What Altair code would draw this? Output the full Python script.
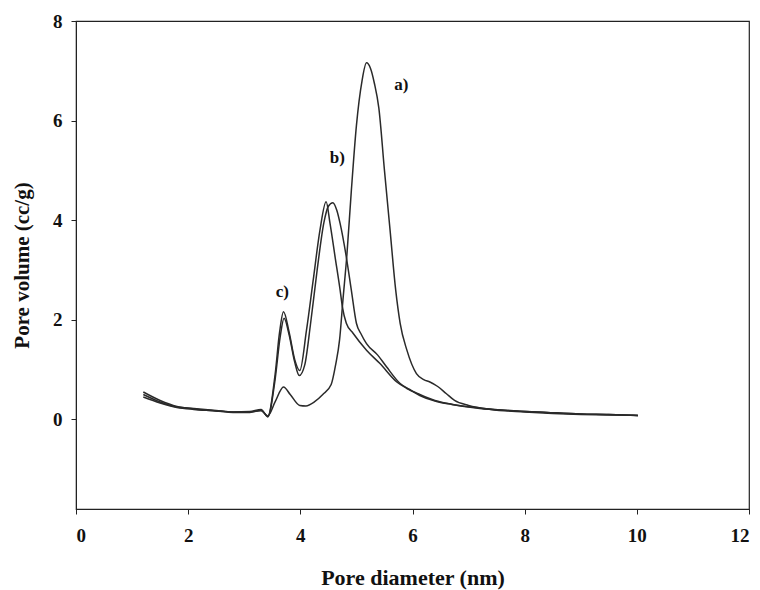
import altair as alt
import pandas as pd

# Curve a)
a_x = [1.2, 1.5, 1.8, 2.1, 2.5, 2.8, 3.1, 3.3, 3.42, 3.55, 3.7, 3.82, 3.99, 4.1, 4.25, 4.4, 4.55, 4.63, 4.7, 4.76, 4.83, 4.91, 5.0, 5.1, 5.18, 5.25, 5.32, 5.4, 5.5, 5.6, 5.7, 5.78, 5.9, 6.07, 6.2, 6.31, 6.45, 6.6, 6.75, 7.0, 7.4, 8.0, 8.5, 9.0, 9.5, 10.02]
a_y = [0.55, 0.38, 0.26, 0.21, 0.17, 0.15, 0.15, 0.18, 0.07, 0.35, 0.65, 0.5, 0.28, 0.27, 0.35, 0.5, 0.7, 1.1, 1.6, 2.4, 3.3, 4.6, 5.9, 6.8, 7.16, 7.05, 6.75, 6.25, 5.0, 3.8, 2.6, 1.93, 1.39, 0.92, 0.8, 0.75, 0.66, 0.52, 0.38, 0.28, 0.2, 0.15, 0.12, 0.1, 0.09, 0.08]

# Curve b)
b_x = [1.2, 1.5, 1.8, 2.1, 2.5, 2.8, 3.1, 3.3, 3.42, 3.55, 3.64, 3.71, 3.8, 3.9, 3.98, 4.08, 4.18, 4.3, 4.42, 4.5, 4.58, 4.65, 4.71, 4.82, 4.91, 5.0, 5.09, 5.18, 5.38, 5.54, 5.78, 5.95, 6.13, 6.4, 6.7, 7.2, 7.7, 8.4, 9.0, 9.5, 10.02]
b_y = [0.5, 0.35, 0.25, 0.22, 0.18, 0.15, 0.16, 0.2, 0.05, 0.8, 1.65, 2.03, 1.7, 1.15, 0.88, 1.1, 1.9, 3.0, 3.95, 4.28, 4.35, 4.2, 3.93, 3.26, 2.59, 1.93, 1.7, 1.52, 1.29, 1.05, 0.72, 0.6, 0.48, 0.37, 0.3, 0.22, 0.18, 0.14, 0.11, 0.1, 0.08]

# Curve c)
c_x = [1.2, 1.5, 1.8, 2.1, 2.5, 2.8, 3.1, 3.3, 3.42, 3.55, 3.63, 3.7, 3.8, 3.9, 3.99, 4.11, 4.23, 4.35, 4.46, 4.53, 4.62, 4.71, 4.75, 4.82, 4.94, 5.18, 5.42, 5.72, 5.9, 6.13, 6.4, 6.72, 7.2, 7.7, 8.4, 9.0, 9.5, 10.02]
c_y = [0.45, 0.33, 0.24, 0.2, 0.17, 0.14, 0.14, 0.18, 0.06, 0.9, 1.75, 2.16, 1.75, 1.2, 0.98, 1.79, 2.8, 3.8, 4.37, 3.93, 3.26, 2.59, 2.26, 1.93, 1.73, 1.39, 1.12, 0.75, 0.62, 0.5, 0.38, 0.3, 0.23, 0.18, 0.14, 0.11, 0.1, 0.08]

label_text = ["a)", "b)", "c)"]
label_x = [5.8, 4.66, 3.68]
label_y = [6.71, 5.25, 2.55]

x_ticks = [0, 2, 4, 6, 8, 10, 12]
y_ticks = [0, 2, 4, 6, 8]

rows = []
for name, xs, ys in (("a", a_x, a_y), ("b", b_x, b_y), ("c", c_x, c_y)):
    for i, (xv, yv) in enumerate(zip(xs, ys)):
        rows.append({"curve": name, "order": i, "d": xv, "v": yv})
df = pd.DataFrame(rows)
labels = pd.DataFrame({"t": label_text, "d": label_x, "v": label_y})

FONT = "Liberation Serif"
xs = alt.Scale(domain=[0, 12], nice=False, zero=False)
ys = alt.Scale(domain=[-1.8, 8], nice=False, zero=False)

lines = alt.Chart(df).mark_line(color="#2a2a2a", strokeWidth=1.5, interpolate="monotone").encode(
    x=alt.X("d:Q", scale=xs, axis=alt.Axis(
        values=x_ticks, format="d", title="Pore diameter (nm)", grid=False, domainColor="#222",
        tickColor="#222", tickSize=5, labelFont=FONT, labelFontSize=19, labelFontWeight="bold",
        labelColor="#111", labelPadding=12, titleFont=FONT, titleFontSize=22, titleFontWeight="bold",
        titleColor="#111", titleBaseline="middle", titleY=68)),
    y=alt.Y("v:Q", scale=ys, axis=alt.Axis(
        values=y_ticks, format="d", title="Pore volume (cc/g)", grid=False, domainColor="#222",
        tickColor="#222", tickSize=5, labelFont=FONT, labelFontSize=19, labelFontWeight="bold",
        labelColor="#111", labelPadding=9, titleFont=FONT, titleFontSize=21, titleFontWeight="bold",
        titleColor="#111", titleAngle=-90, titleBaseline="middle", titleX=-54, titleY=244)),
    detail="curve:N",
    order="order:Q",
)

text = alt.Chart(labels).mark_text(font=FONT, fontSize=17, fontWeight="bold", color="#111").encode(
    x=alt.X("d:Q", scale=xs), y=alt.Y("v:Q", scale=ys), text="t:N")

chart = alt.layer(lines, text).properties(
    width=673, height=488, autosize="none",
    padding={"left": 76, "top": 21, "right": 11, "bottom": 81},
    background="white",
).configure_view(stroke="#222", strokeWidth=1.2)

chart.save("out.html", embed_options={"renderer": "svg", "actions": False})
